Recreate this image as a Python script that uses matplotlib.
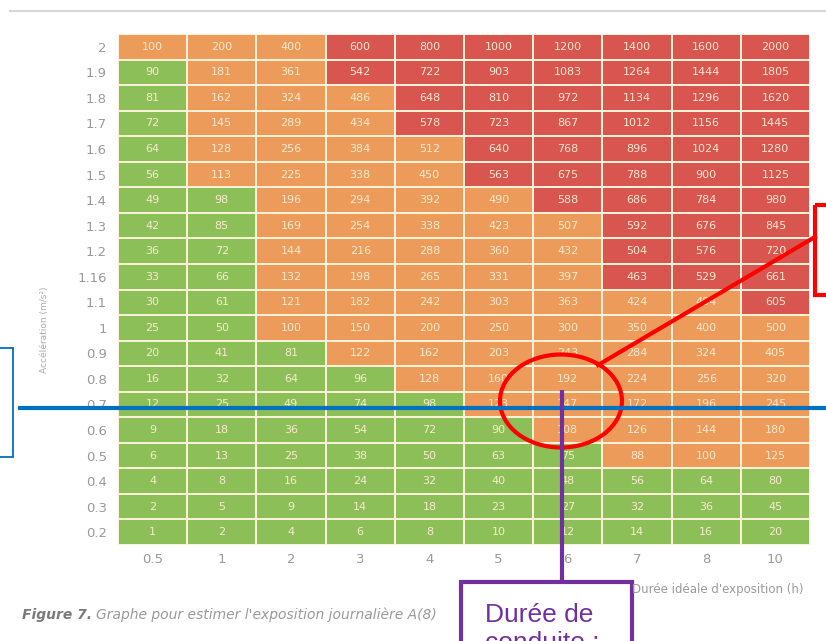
import numpy as np
import matplotlib.pyplot as plt
from matplotlib.colors import ListedColormap
from matplotlib.patches import Ellipse, Rectangle

# Durée d'exposition (h) et accélération (m/s²)
durations = ["0.5", "1", "2", "3", "4", "5", "6", "7", "8", "10"]
accels = ["2", "1.9", "1.8", "1.7", "1.6", "1.5", "1.4", "1.3", "1.2", "1.16",
          "1.1", "1", "0.9", "0.8", "0.7", "0.6", "0.5", "0.4", "0.3", "0.2"]

values = [
    [100, 200, 400, 600, 800, 1000, 1200, 1400, 1600, 2000],
    [90, 181, 361, 542, 722, 903, 1083, 1264, 1444, 1805],
    [81, 162, 324, 486, 648, 810, 972, 1134, 1296, 1620],
    [72, 145, 289, 434, 578, 723, 867, 1012, 1156, 1445],
    [64, 128, 256, 384, 512, 640, 768, 896, 1024, 1280],
    [56, 113, 225, 338, 450, 563, 675, 788, 900, 1125],
    [49, 98, 196, 294, 392, 490, 588, 686, 784, 980],
    [42, 85, 169, 254, 338, 423, 507, 592, 676, 845],
    [36, 72, 144, 216, 288, 360, 432, 504, 576, 720],
    [33, 66, 132, 198, 265, 331, 397, 463, 529, 661],
    [30, 61, 121, 182, 242, 303, 363, 424, 484, 605],
    [25, 50, 100, 150, 200, 250, 300, 350, 400, 500],
    [20, 41, 81, 122, 162, 203, 243, 284, 324, 405],
    [16, 32, 64, 96, 128, 160, 192, 224, 256, 320],
    [12, 25, 49, 74, 98, 123, 147, 172, 196, 245],
    [9, 18, 36, 54, 72, 90, 108, 126, 144, 180],
    [6, 13, 25, 38, 50, 63, 75, 88, 100, 125],
    [4, 8, 16, 24, 32, 40, 48, 56, 64, 80],
    [2, 5, 9, 14, 18, 23, 27, 32, 36, 45],
    [1, 2, 4, 6, 8, 10, 12, 14, 16, 20],
]

# G = vert, O = orange, R = rouge
zones = [
    "OOORRRRRRR", "GOORRRRRRR", "GOOORRRRRR", "GOOORRRRRR", "GOOOORRRRR",
    "GOOOORRRRR", "GGOOOORRRR", "GGOOOOORRR", "GGOOOOORRR", "GGOOOOORRR",
    "GGOOOOOOOR", "GGOOOOOOOO", "GGGOOOOOOO", "GGGGOOOOOO", "GGGGGOOOOO",
    "GGGGGGOOOO", "GGGGGGGOOO", "GGGGGGGGGG", "GGGGGGGGGG", "GGGGGGGGGG",
]

W, H = 826, 641
fig = plt.figure(figsize=(W / 100, H / 100), dpi=100)

# fine ligne grise en haut
fig.add_artist(plt.Line2D([10 / W, 1], [1 - 11 / H, 1 - 11 / H], color="#d8d8d8", lw=1.5))

ax = fig.add_axes([118 / W, 1 - 545 / H, (810 - 118) / W, (545 - 34) / H])
codes = np.array([["GOR".index(c) for c in row] for row in zones])
cmap = ListedColormap(["#8dbf58", "#ec9b5b", "#d9554f"])
ax.pcolormesh(codes, cmap=cmap, vmin=-0.5, vmax=2.5, edgecolors="#fbf1d6", linewidth=1.2)
ax.set_xlim(0, len(durations))
ax.set_ylim(len(accels), 0)

for i, row in enumerate(values):
    for j, v in enumerate(row):
        ax.text(j + 0.5, i + 0.5, str(v), ha="center", va="center",
                color="#f8ead0", fontsize=8)

ax.set_xticks(np.arange(len(durations)) + 0.5, durations)
ax.set_yticks(np.arange(len(accels)) + 0.5, accels)
ax.tick_params(length=0, colors="#9a9a9a", labelsize=9.5)
ax.tick_params(axis="y", pad=8)
ax.tick_params(axis="x", pad=6)
for s in ax.spines.values():
    s.set_visible(False)

fig.text(45 / W, 1 - 330 / H, "Accélération (m/s²)", rotation=90, ha="center", va="center",
         fontsize=6.5, color="#aaaaaa")
fig.text(632 / W, 1 - 590 / H, "Durée idéale d'exposition (h)", ha="left", va="center",
         fontsize=8.5, color="#9a9a9a")

# légende de la figure : partie en gras puis le reste
fig_lbl = fig.text(22 / W, 1 - 615 / H, "Figure 7.", ha="left", va="center", fontsize=10,
                   style="italic", weight="bold", color="#7a7a7a")
fig.canvas.draw()
bb = fig_lbl.get_window_extent()
fig.text((bb.x1 + 4) / W, 1 - 615 / H, "Graphe pour estimer l'exposition journalière A(8)",
         ha="left", va="center", fontsize=10, style="italic", color="#9a9a9a")

# annotations par-dessus
ov = fig.add_axes([0, 0, 1, 1])
ov.set_xlim(0, W)
ov.set_ylim(H, 0)
ov.axis("off")
ov.patch.set_visible(False)

blue = "#0070c0"
red = "#ff0000"
purple = "#7030a0"

ov.plot([18, W], [408, 408], color=blue, lw=3, solid_capstyle="butt")
ov.add_patch(Rectangle((-5, 348), 18, 109, fill=False, ec=blue, lw=1.3))

ov.add_patch(Ellipse((561, 401), 122, 93, fill=False, ec=red, lw=3))
ov.plot([598, 815], [365, 237], color=red, lw=3)
ov.add_patch(Rectangle((815, 205), 40, 90, fill=False, ec=red, lw=3))

ov.plot([562, 562], [390, 582], color=purple, lw=3, solid_capstyle="butt")
ov.add_patch(Rectangle((461, 582), 171, 90, fc="white", ec=purple, lw=3))
ov.text(485, 622, "Durée de", ha="left", va="baseline", fontsize=19,
        family="Liberation Sans", color=purple)
ov.text(485, 650, "conduite :", ha="left", va="baseline", fontsize=19,
        family="Liberation Sans", color=purple)

fig.savefig("out.png", dpi=100)
